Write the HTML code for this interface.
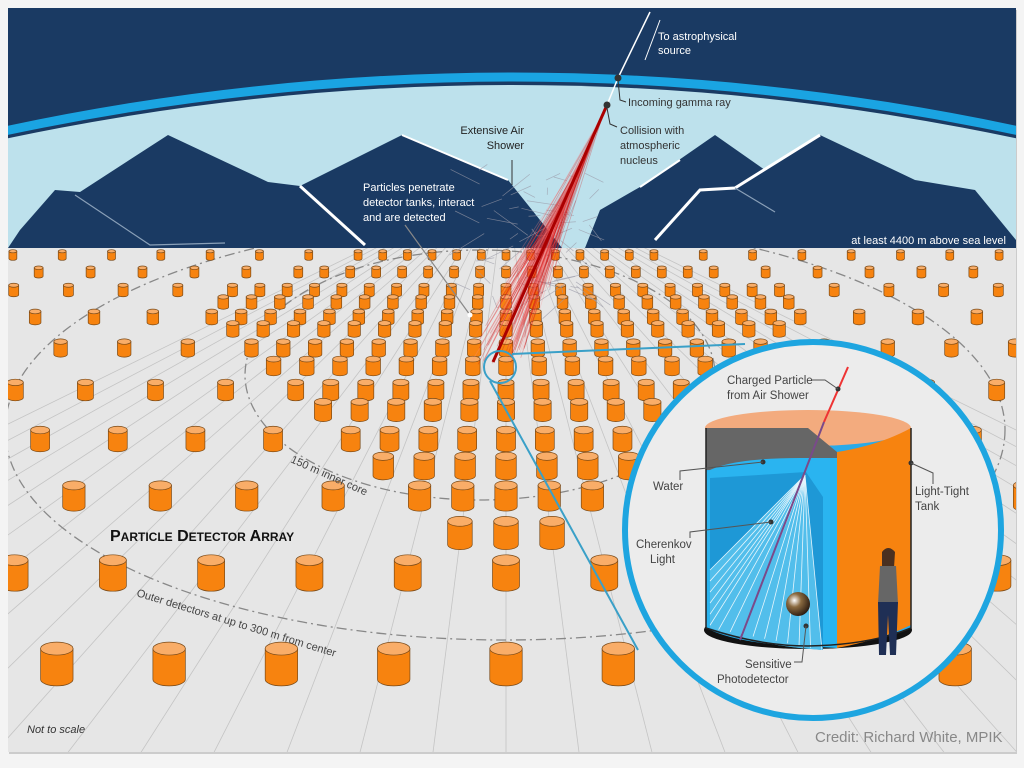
<!DOCTYPE html>
<html><head><meta charset="utf-8"><style>
html,body{margin:0;padding:0;background:#fff;width:1024px;height:768px;overflow:hidden}
svg{display:block}
text{font-family:"Liberation Sans",sans-serif}
</style></head><body>
<svg id="s" width="1024" height="768" viewBox="0 0 1024 768" xmlns="http://www.w3.org/2000/svg">
<defs>
<clipPath id="pic"><rect x="8" y="8" width="1008" height="744"/></clipPath>
<clipPath id="ground"><rect x="8" y="248" width="1008" height="504"/></clipPath>
<clipPath id="circ"><circle cx="813" cy="530" r="188"/></clipPath>
<radialGradient id="sph" cx="0.35" cy="0.35" r="0.7"><stop offset="0" stop-color="#fff"/><stop offset="0.4" stop-color="#8a6a40"/><stop offset="1" stop-color="#2a1a10"/></radialGradient>
</defs>
<rect x="0" y="0" width="1024" height="768" fill="#f4f4f4"/>
<rect x="9" y="10" width="1008" height="744" fill="#ccc"/>
<g clip-path="url(#pic)">
<rect x="8" y="8" width="1008" height="744" fill="#1a3a63"/>
<path d="M0,140 Q512,30 1024,140 L1024,260 L0,260 Z" fill="#bde1ec"/>
<path d="M0,132 Q512,22 1024,132" fill="none" stroke="#1aa4e2" stroke-width="9"/>
<path d="M8,248 L20,230 L55,190 L80,192 L168,135 L268,182 L300,186 L402,135 L508,180 L540,220 L562,248 L585,248 L600,210 L640,187 L715,135 L765,170 L820,135 L915,180 L975,190 L1016,240 L1016,248 Z" fill="#1a3a63"/>
<path d="M300,186 L365,245" stroke="#fff" stroke-width="3"/>
<path d="M402,135 L508,180" stroke="#fff" stroke-width="2"/>
<path d="M75,195 L150,245 L225,243" stroke="#8aa0b8" stroke-width="1.2" fill="none"/>
<path d="M655,240 L700,190 L735,188 L820,135" stroke="#fff" stroke-width="3" fill="none"/>
<path d="M735,188 L775,212" stroke="#8aa0b8" stroke-width="1.2"/>
<path d="M640,187 L680,160" stroke="#fff" stroke-width="2"/>
<rect x="8" y="248" width="1008" height="504" fill="#e6e6e6"/>
<g id="rad" clip-path="url(#ground)" stroke="#c4c4c4" stroke-width="0.8"></g>
<g clip-path="url(#ground)" fill="none" stroke="#888" stroke-width="1.3" stroke-dasharray="10,4,2,4">
<ellipse cx="480" cy="375" rx="235" ry="125"/>
<ellipse cx="505" cy="430" rx="500" ry="210"/>
</g>
<g id="cyl"></g>
<g id="shower"></g>
<path d="M650,12 L618,78" stroke="#fff" stroke-width="1.5"/>
<path d="M660,20 L645,60" stroke="#fff" stroke-width="1"/>
<path d="M618,78 L607,105" stroke="#fff" stroke-width="1.5"/>
<circle cx="618" cy="78" r="3.5" fill="#333"/>
<circle cx="607" cy="105" r="3.5" fill="#333"/>
<path d="M618,80 L620,100 L626,102" stroke="#333" fill="none"/>
<path d="M607,108 L610,124 L617,127" stroke="#333" fill="none"/>
<path d="M512,160 L512,185" stroke="#333"/>
<path d="M405,225 L470,315" stroke="#888" stroke-width="1.2"/>
<circle cx="470" cy="315" r="2.5" fill="#fff"/>
<text fill="#fff" font-size="11"><tspan x="658" y="40">To astrophysical</tspan><tspan x="658" y="54">source</tspan></text>
<text fill="#333" font-size="11" x="628" y="106">Incoming gamma ray</text>
<text fill="#333" font-size="11"><tspan x="620" y="134">Collision with</tspan><tspan x="620" y="149">atmospheric</tspan><tspan x="620" y="164">nucleus</tspan></text>
<text fill="#222" font-size="11" text-anchor="end"><tspan x="524" y="134">Extensive Air</tspan><tspan x="524" y="149">Shower</tspan></text>
<text fill="#fff" font-size="11"><tspan x="363" y="191">Particles penetrate</tspan><tspan x="363" y="206">detector tanks, interact</tspan><tspan x="363" y="221">and are detected</tspan></text>
<text fill="#fff" font-size="11" text-anchor="end" x="1006" y="244">at least 4400 m above sea level</text>
<text fill="#111" font-weight="bold" font-size="16" x="110" y="541">P<tspan font-size="12">ARTICLE</tspan> D<tspan font-size="12">ETECTOR</tspan> A<tspan font-size="12">RRAY</tspan></text>
<text fill="#444" font-size="11" transform="translate(290,462) rotate(24)">150 m inner core</text>
<text fill="#444" font-size="11" transform="translate(136,596) rotate(17)">Outer detectors at up to 300 m from center</text>
<text fill="#333" font-size="11" font-style="italic" x="27" y="733">Not to scale</text>
<circle cx="500" cy="367" r="16" fill="none" stroke="#3aa0c8" stroke-width="2"/>
<path d="M512,354 L745,344 M490,381 L638,650" stroke="#3aa0c8" stroke-width="2"/>
<circle cx="813" cy="530" r="188" fill="#ececec"/>
<g clip-path="url(#circ)">
<ellipse cx="808" cy="630" rx="104" ry="19" fill="#111"/>
<path d="M706,428 L911,428 L911,628 Q860,645 808,646 Q740,645 706,628 Z" fill="#2aaae8"/>
<ellipse cx="808" cy="428" rx="103" ry="18" fill="#f3ab7e"/>
<path d="M706,428 L808,428 L837,452 L837,470 L706,470 Z" fill="#666"/>
<path d="M706,472 Q730,458 800,458 L837,458 L837,648 Q770,645 706,628 Z" fill="#2ab4f0"/>
<path d="M710,478 L806,472 L823,497 L823,650 Q760,646 710,628 Z" fill="#1e98d6"/>
<path d="M805,475 L710,570 L710,628 Q760,646 822,650 Z" fill="#5cc4ef" opacity="0.85"/>
<g id="rays" stroke="#fff" stroke-width="0.8" opacity="0.85"></g>
<path d="M837,452 Q880,445 911,428 L911,625 Q880,640 837,648 Z" fill="#f7830f"/>
<path d="M706,428 L706,628 Q760,646 808,646 Q870,645 911,628 L911,428" fill="none" stroke="#222" stroke-width="1.5"/>
<path d="M848,367 L824,422" stroke="#e33" stroke-width="2"/>
<path d="M824,422 L740,640" stroke="#7a4a8a" stroke-width="2"/>
<circle cx="798" cy="604" r="12" fill="url(#sph)"/>
<circle cx="888" cy="556" r="6" fill="#c08060"/>
<path d="M882,552 Q888,544 895,552 L894,568 L882,568 Z" fill="#4a3020"/>
<path d="M880,566 L896,566 L898,604 L878,604 Z" fill="#666"/>
<path d="M878,602 L898,602 L896,655 L890,655 L888,615 L886,655 L879,655 Z" fill="#1f2f55"/>
</g>
<circle cx="813" cy="530" r="188" fill="none" stroke="#1ea5e0" stroke-width="6"/>
<circle cx="838" cy="389" r="2.5" fill="#333"/><path d="M838,389 L825,380 L812,380" stroke="#555" fill="none"/>
<circle cx="763" cy="462" r="2.5" fill="#333"/><path d="M763,462 L680,471 L680,480" stroke="#555" fill="none"/>
<circle cx="911" cy="463" r="2.5" fill="#333"/><path d="M911,463 L933,473 L933,484" stroke="#555" fill="none"/>
<circle cx="771" cy="522" r="2.5" fill="#333"/><path d="M771,522 L690,532 L690,538" stroke="#555" fill="none"/>
<circle cx="806" cy="626" r="2.5" fill="#333"/><path d="M806,626 L802,662 L794,662" stroke="#555" fill="none"/>
<text fill="#444" font-size="11.5"><tspan x="727" y="384">Charged Particle</tspan><tspan x="727" y="399">from Air Shower</tspan></text>
<text fill="#444" font-size="11.5" x="653" y="490">Water</text>
<text fill="#444" font-size="11.5"><tspan x="915" y="495">Light-Tight</tspan><tspan x="915" y="510">Tank</tspan></text>
<text fill="#444" font-size="11.5"><tspan x="636" y="548">Cherenkov</tspan><tspan x="650" y="563">Light</tspan></text>
<text fill="#444" font-size="11.5"><tspan x="745" y="668">Sensitive</tspan><tspan x="717" y="683">Photodetector</tspan></text>
</g>
<text fill="#888" font-size="15" x="815" y="742">Credit: Richard White, MPIK</text>
</svg>
<script>
var NS="http://www.w3.org/2000/svg";
function el(p,t,a){var e=document.createElementNS(NS,t);for(var k in a)e.setAttribute(k,a[k]);p.appendChild(e);return e;}
var rad=document.getElementById('rad');
for(var i=-16;i<=16;i++){el(rad,'line',{x1:506,y1:180,x2:506+i*75,y2:768});}
var cyl=document.getElementById('cyl');
var inner=[[533,50],[496,50],[466,125],[439,158],[410,186],[390,212],[366,240],[348,262],[329,282],[317,296],[302,286],[290,255],[272,210],[255,170]];
var outerRows=[664,573,496,439,390,348,317,290,272,255];
var rows={};
inner.forEach(function(r){rows[r[0]]={hw:r[1],outer:false};});
outerRows.forEach(function(y){if(!rows[y])rows[y]={hw:-1,outer:true};else rows[y].outer=true;});
var ys=Object.keys(rows).map(Number).sort(function(a,b){return a-b;});
ys.forEach(function(y){
  var r=rows[y];var sp=0.077*(y-240)+23.5;var w=0.06*(y-240)+7;var h=w*0.95;
  for(var X=-40;X<=40;X++){
    var x=506+X*sp;if(x<-30||x>1050)continue;
    var ok=(Math.abs(x-506)<=r.hw+2)||(r.outer&&X%2==0);
    if(!ok)continue;
    var ry=w*0.2;
    var g=el(cyl,'g',{});
    el(g,'path',{d:'M'+(x-w/2)+','+(y-h/2)+' L'+(x-w/2)+','+(y+h/2)+' A'+(w/2)+','+ry+' 0 0 0 '+(x+w/2)+','+(y+h/2)+' L'+(x+w/2)+','+(y-h/2)+' Z',fill:'#f7830f',stroke:'#7a4a18','stroke-width':0.7});
    el(g,'ellipse',{cx:x,cy:y-h/2,rx:w/2,ry:ry,fill:'#f9ad68',stroke:'#7a4a18','stroke-width':0.7});
  }
});
var sh=document.getElementById('shower');
var seed=7;function rnd(a,b){seed=(seed*16807)%2147483647;return a+(seed/2147483647)*(b-a);}
for(var i=0;i<60;i++){var x=rnd(470,590),y=rnd(170,300);el(sh,'line',{x1:x,y1:y,x2:x+rnd(-35,35),y2:y+rnd(-15,25),stroke:'#9a9aa8','stroke-width':0.7,'stroke-opacity':0.7});}
for(var i=0;i<140;i++){var t=rnd(0,1);var y0=105+t*120;var x0=607-(y0-105)*0.44;var y2=rnd(260,365);var x2=607-(y2-105)*0.44+rnd(-25,25);el(sh,'line',{x1:x0,y1:y0,x2:x2,y2:y2,stroke:i%3?'#d01010':'#ff9090','stroke-opacity':0.3,'stroke-width':0.8});}
el(sh,'line',{x1:607,y1:105,x2:493,y2:362,stroke:'#a00',"stroke-width":3});
var rays=document.getElementById('rays');
for(var i=0;i<16;i++){var t=i/15;var x2,y2;if(t<0.35){x2=710;y2=570+t/0.35*58;}else{x2=710+(t-0.35)/0.65*112;y2=628+(t-0.35)/0.65*22;}el(rays,'line',{x1:805,y1:475,x2:x2,y2:y2});}
</script>
</body></html>
